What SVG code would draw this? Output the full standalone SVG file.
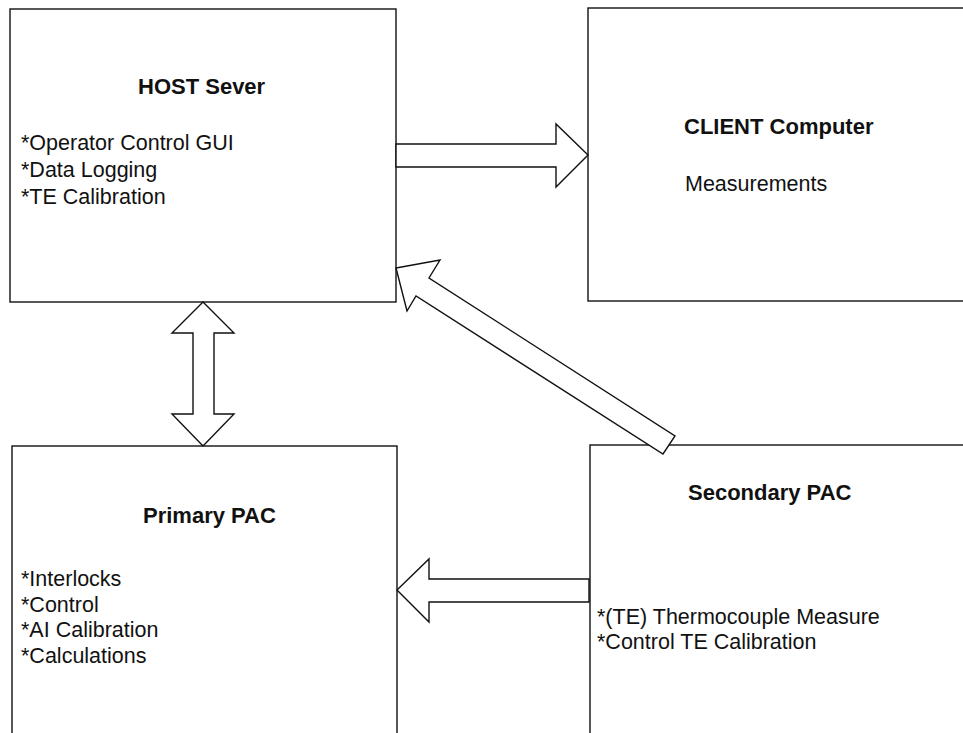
<svg xmlns="http://www.w3.org/2000/svg" width="963" height="733" viewBox="0 0 963 733">
  <style>
    .box { fill: #ffffff; stroke: #111111; stroke-width: 1.4; }
    .arrow { fill: #ffffff; stroke: #111111; stroke-width: 1.4; stroke-linejoin: miter; }
    text { font-family: "Liberation Sans", Arial, sans-serif; fill: #111111; }
    .title { font-size: 22px; font-weight: bold; }
    .item { font-size: 21.5px; }
  </style>
  <rect width="963" height="733" fill="#ffffff"/>

  <g id="host-server">
    <rect class="box" x="10" y="9" width="386" height="293"/>
    <text class="title" x="138" y="94">HOST Sever</text>
    <text class="item" x="21" y="150">*Operator Control GUI</text>
    <text class="item" x="21" y="177">*Data Logging</text>
    <text class="item" x="21" y="204">*TE Calibration</text>
  </g>

  <g id="client-computer">
    <rect class="box" x="588" y="8" width="390" height="293"/>
    <text class="title" x="684" y="134">CLIENT Computer</text>
    <text class="item" x="685" y="191">Measurements</text>
  </g>

  <g id="primary-pac">
    <rect class="box" x="12" y="446" width="385" height="300"/>
    <text class="title" x="143" y="523">Primary PAC</text>
    <text class="item" x="21" y="586">*Interlocks</text>
    <text class="item" x="21" y="612">*Control</text>
    <text class="item" x="21" y="637">*AI Calibration</text>
    <text class="item" x="21" y="663">*Calculations</text>
  </g>

  <g id="secondary-pac">
    <rect class="box" x="590" y="445" width="390" height="300"/>
    <text class="title" x="688" y="500">Secondary PAC</text>
    <text class="item" x="597" y="624">*(TE) Thermocouple Measure</text>
    <text class="item" x="597" y="649">*Control TE Calibration</text>
  </g>

  <g id="connectors">
    <!-- host to client -->
    <polygon class="arrow" points="396,144 556,144 556,124 588,155 556,187 556,167 396,167"/>
    <!-- host <-> primary PAC -->
    <polygon class="arrow" points="203,302 234,333 214,333 214,414 234,414 203,446 172,414 193,414 193,333 172,333"/>
    <!-- secondary PAC to primary PAC -->
    <polygon class="arrow" points="397,590 429,559 429,579 589,579 589,602 429,602 429,622"/>
    <!-- secondary PAC to host -->
    <polygon class="arrow" points="396,268 440,260 429,278 675,436 663,454 416,296 407,311"/>
  </g>
</svg>
